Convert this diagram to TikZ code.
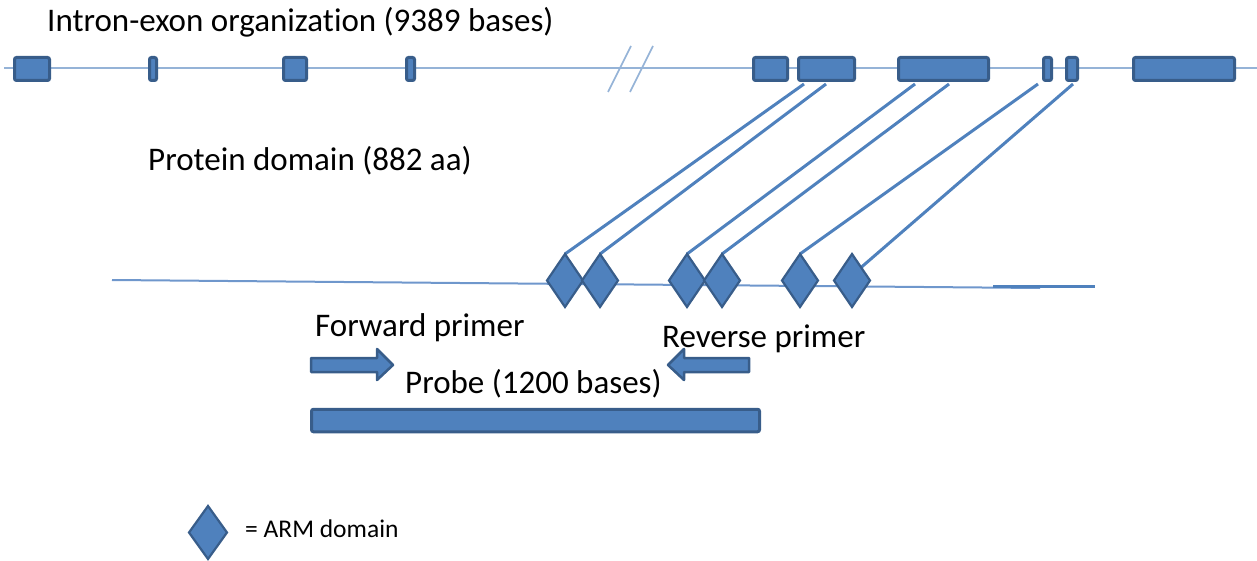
\documentclass[tikz,border=0pt]{standalone}
\usepackage{fontspec}
\setmainfont[Ligatures={NoCommon}]{Carlito}
\usetikzlibrary{shapes.geometric}
\definecolor{bfill}{HTML}{4F81BD}
\definecolor{bdark}{HTML}{385D8A}
\definecolor{blight}{HTML}{95B3D7}
\definecolor{bmid}{HTML}{6F97CC}
\tikzset{
  exon/.style={draw=bdark, fill=bfill, line width=3pt, rounded corners=2pt, inner sep=0pt, outer sep=0pt, minimum height=23pt},
  arm/.style={diamond, draw=bdark, fill=bfill, line width=2.2pt, inner sep=0pt, outer sep=0pt, minimum width=36pt, minimum height=53pt},
  link/.style={draw=bfill, line width=3pt},
  lbl/.style={anchor=base west, inner sep=0pt, font=\fontsize{33}{39}\selectfont},
  blockarrow/.style={draw=bdark, fill=bfill, line width=2.5pt, line join=round}
}
\begin{document}
\begin{tikzpicture}[x=1pt,y=-1pt]
\useasboundingbox (0,0) rectangle (1257,561);
% intron-exon line
\draw[blight, line width=2pt] (4,68.5) -- (1257,68.5);
\draw[blight, line width=1.6pt] (608,92) -- (631,46);
\draw[blight, line width=1.6pt] (630,92) -- (653,46);
\node[exon, minimum width=35pt] (e1) at (32,69) {};
\node[exon, minimum width=7pt] (e2) at (153,69) {};
\node[exon, minimum width=23pt] (e3) at (295,69) {};
\node[exon, minimum width=8pt] (e4) at (410.5,69) {};
\node[exon, minimum width=34pt] (e5) at (770.5,69) {};
\node[exon, minimum width=56pt] (e6) at (826.5,69) {};
\node[exon, minimum width=90pt] (e7) at (943.5,69) {};
\node[exon, minimum width=8pt] (e8) at (1047.5,69) {};
\node[exon, minimum width=11pt] (e9) at (1072,69) {};
\node[exon, minimum width=101pt] (e10) at (1184,69) {};
% texts
\node[lbl] (t1) at (47,32) {Intron-exon organization (9389 bases)};
\node[lbl] (t2) at (148,171) {Protein domain (882 aa)};
\node[lbl] (t3) at (315,336) {Forward primer};
\node[lbl] (t4) at (662,347) {Reverse primer};
\node[lbl] (t5) at (405,393) {Probe (1200 bases)};
\node[lbl, font=\fontsize{25.5}{30}\selectfont] (t6) at (245,537) {= ARM domain};
% protein line
\draw[bmid, line width=2pt] (112,280) -- (1040,288);
\draw[bfill, line width=2.2pt] (993,286.5) -- (1095,286.5);
% connector start points
\coordinate (c1) at (804,84);
\coordinate (c2) at (826,84);
\coordinate (c3) at (915,84);
\coordinate (c4) at (949,84);
\coordinate (c5) at (1038,84);
\coordinate (c6) at (1073,84);
% diamond positions (declared as coordinates first so links lie beneath)
\path (565,280.5) coordinate (p1) (600,280.5) coordinate (p2)
      (687,280.5) coordinate (p3) (722,280.5) coordinate (p4)
      (800,280.5) coordinate (p5) (852,280.5) coordinate (p6);
\draw[link] (c1) -- ([yshift=26.5pt]p1);
\draw[link] (c2) -- ([yshift=26.5pt]p2);
\draw[link] (c3) -- ([yshift=26.5pt]p3);
\draw[link] (c4) -- ([yshift=26.5pt]p4);
\draw[link] (c5) -- ([yshift=26.5pt]p5);
\draw[link] (c6) -- ([xshift=9pt,yshift=13pt]p6);
\node[arm] (d1) at (p1) {};
\node[arm] (d2) at (p2) {};
\node[arm] (d3) at (p3) {};
\node[arm] (d4) at (p4) {};
\node[arm] (d5) at (p5) {};
\node[arm] (d6) at (p6) {};
% primers
\draw[blockarrow] (311,358) -- (377,358) -- (377,349) -- (393,365) -- (377,380) -- (377,372) -- (311,372) -- cycle;
\draw[blockarrow] (749,358) -- (684,358) -- (684,349) -- (668,365) -- (684,380) -- (684,372) -- (749,372) -- cycle;
% probe
\node[exon, minimum width=448pt, minimum height=22.5pt] (probe) at (535.5,420.5) {};
% legend
\node[arm, minimum width=38pt] (leg) at (208,532.5) {};
\end{tikzpicture}
\end{document}
